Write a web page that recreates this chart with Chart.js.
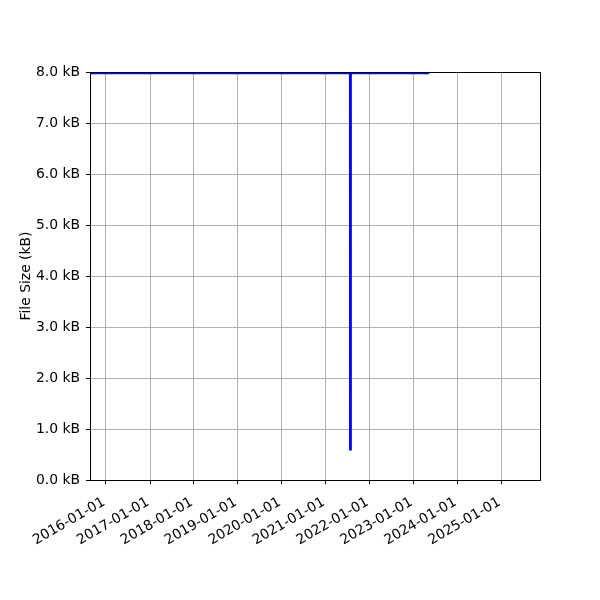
<!DOCTYPE html>
<html>
<head>
<meta charset="utf-8">
<script src="https://cdn.jsdelivr.net/npm/chart.js@4"></script>
<style>
  html, body { margin: 0; padding: 0; background: #fff; }
  canvas { display: block; }
</style>
</head>
<body>
<canvas id="sizeChart" width="600" height="600"></canvas>
<script>
// file size history (kB) by commit date
const dates = ['2015-08-21', '2021-07-21', '2021-07-22', '2021-07-28', '2021-07-29', '2023-05-11'];
const sizes = [7.975, 7.975, 0.6, 0.6, 7.975, 7.975];

const tickYears = [2016, 2017, 2018, 2019, 2020, 2021, 2022, 2023, 2024, 2025];
const xMin = '2015-08-21';
const xMax = '2025-11-17';
const yTicks = [0, 1, 2, 3, 4, 5, 6, 7, 8];

const toMs = d => Date.parse(d + 'T00:00:00Z');

// black box round the plot area, drawn over the line like matplotlib spines
const frame = {
  id: 'frame',
  afterDatasetsDraw(chart) {
    const a = chart.chartArea;
    const ctx = chart.ctx;
    ctx.save();
    ctx.strokeStyle = '#000';
    ctx.lineWidth = 1;
    ctx.strokeRect(Math.round(a.left) + 0.5, Math.round(a.top) + 0.5,
      Math.round(a.right - a.left), Math.round(a.bottom - a.top));
    ctx.restore();
  }
};

const font = { family: 'DejaVu Sans', size: 13.9 };

new Chart(document.getElementById('sizeChart').getContext('2d'), {
  type: 'line',
  data: {
    datasets: [{
      data: dates.map((d, i) => ({ x: toMs(d), y: sizes[i] })),
      borderColor: '#0000ff',
      borderWidth: 2,
      pointRadius: 0,
      tension: 0,
      fill: false
    }]
  },
  options: {
    responsive: false,
    animation: false,
    layout: { padding: { left: 0, top: 72, right: 60, bottom: 0 } },
    plugins: { legend: { display: false }, tooltip: { enabled: false } },
    scales: {
      x: {
        type: 'linear',
        min: toMs(xMin),
        max: toMs(xMax),
        afterBuildTicks: s => { s.ticks = tickYears.map(y => ({ value: Date.UTC(y, 0, 1) })); },
        afterFit: s => { s.height = 120; },
        grid: { color: '#b0b0b0', lineWidth: 1, tickColor: '#000', tickLength: 4 },
        border: { display: false },
        ticks: {
          autoSkip: false,
          minRotation: 30,
          maxRotation: 30,
          padding: 10,
          labelOffset: -2,
          color: '#000',
          font: font,
          callback: v => new Date(v).toISOString().slice(0, 10)
        }
      },
      y: {
        min: 0,
        max: 8,
        afterBuildTicks: s => { s.ticks = yTicks.map(v => ({ value: v })); },
        afterFit: s => { s.width = 90; },
        grid: { color: '#b0b0b0', lineWidth: 1, tickColor: '#000', tickLength: 4 },
        border: { display: false },
        title: {
          display: true,
          text: 'File Size (kB)',
          color: '#000',
          font: font,
          padding: { top: 18, bottom: 0 }
        },
        ticks: {
          padding: 6,
          color: '#000',
          font: font,
          callback: v => v.toFixed(1) + ' kB'
        }
      }
    }
  },
  plugins: [frame]
});
</script>
</body>
</html>
